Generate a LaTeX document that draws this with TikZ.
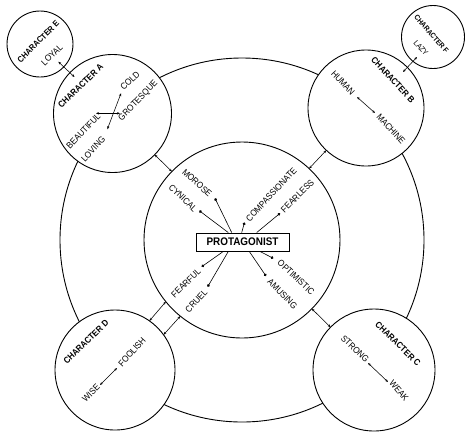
\documentclass[tikz,border=0pt]{standalone}
\usepackage{fontspec}
\setmainfont{Liberation Sans}[FakeStretch=0.9]
\usetikzlibrary{arrows.meta,calc}
\begin{document}
\begin{tikzpicture}[x=1pt,y=-1pt,
  ring/.style={circle,draw,line width=0.9pt,inner sep=0pt,outer sep=0pt},
  char/.style={circle,draw,line width=0.9pt,fill=white,inner sep=0pt,outer sep=0pt},
  lab/.style={font=\fontsize{9}{10}\selectfont,inner sep=0pt},
  cname/.style={font=\fontsize{8.9}{10}\selectfont\bfseries,inner sep=0pt},
  dbl/.style={line width=0.55pt,{Stealth[length=3pt,width=2.4pt]}-{Stealth[length=3pt,width=2.4pt]}},
  dotline/.style={line width=0.6pt,-{Circle[length=2.8pt]}},
  protbox/.style={draw,line width=0.9pt,fill=white,minimum width=93pt,minimum height=18pt,inner sep=0pt,font=\fontsize{11}{12}\selectfont\bfseries}
]
\useasboundingbox (0,0) rectangle (474,440);
% rings
\node[ring,minimum size=364pt] (O) at (242,240) {};
\node[ring,minimum size=196pt] (I) at (242,240) {};
% character circles
\node[char,minimum size=66pt] (E) at (40,44) {};
\node[char,minimum size=118pt] (A) at (112.5,113.5) {};
\node[char,minimum size=116pt] (B) at (366,108) {};
\node[char,minimum size=63pt] (F) at (433,37) {};
\node[char,minimum size=120pt] (D) at (115,370) {};
\node[char,minimum size=122pt] (C) at (374,370) {};
% connectors between circles
\draw[dbl] (A) -- (I);
\draw[dbl] (B) -- (I);
\draw[dbl] (C) -- (I);
\draw[dbl] (D.55.3) -- (I.219.8);
\draw[dbl] (D.36.1) -- (I.231.5);
\coordinate (ea1) at (58.3,61.7);
\coordinate (ea2) at (74.5,77);
\draw[dbl] (ea1) -- (ea2);
\coordinate (fb1) at (417,57);
\coordinate (fb2) at (403,72);
\draw[dbl] (fb1) -- (fb2);
% connectors inside circles
\coordinate (a1) at (96,113.3);
\coordinate (a2) at (120,113.3);
\draw[dbl] (a1) -- (a2);
\coordinate (a3) at (107.3,129.3);
\coordinate (a4) at (121,93.3);
\draw[dbl] (a3) -- (a4);
\coordinate (b1) at (357,97);
\coordinate (b2) at (375,113);
\draw[dbl] (b1) -- (b2);
\coordinate (d1) at (100,385);
\coordinate (d2) at (117,368);
\draw[dbl] (d1) -- (d2);
\coordinate (c1) at (368,363);
\coordinate (c2) at (388,382);
\draw[dbl] (c1) -- (c2);
% character labels
\node[cname,rotate=45,font=\fontsize{8.4}{10}\selectfont\bfseries] (tE) at (38.3,41.7) {CHARACTER E};
\node[lab,rotate=44] (loyal) at (52,55) {LOYAL};
\node[cname,rotate=44] (tA) at (80.5,86) {CHARACTER A};
\node[lab,rotate=43] (cold) at (130,81) {COLD};
\node[lab,rotate=46] (grot) at (138.3,100.8) {GROTESQUE};
\node[lab,rotate=46] (beau) at (83.3,131) {BEAUTIFUL};
\node[lab,rotate=47] (loving) at (93.3,149) {LOVING};
\node[cname,rotate=-47] (tB) at (393,80) {CHARACTER B};
\node[lab,rotate=-47] (human) at (343,83) {HUMAN};
\node[lab,rotate=-48] (machine) at (391,129) {MACHINE};
\node[cname,rotate=-49,font=\fontsize{7.4}{9}\selectfont\bfseries] (tF) at (431.5,34) {CHARACTER F};
\node[lab,rotate=-49,font=\fontsize{7.8}{9}\selectfont] (lazy) at (421,48) {LAZY};
\node[cname,rotate=44] (tD) at (86,342) {CHARACTER D};
\node[lab,rotate=48] (foolish) at (132,352) {FOOLISH};
\node[lab,rotate=45] (wise) at (91,393) {WISE};
\node[cname,rotate=-44] (tC) at (398,344) {CHARACTER C};
\node[lab,rotate=-44] (strong) at (355,349) {STRONG};
\node[lab,rotate=-50] (weak) at (399,391) {WEAK};
% protagonist
\node[protbox] (P) at (242.5,242) {PROTAGONIST};
\coordinate (pm) at (215,198.3);
\coordinate (pc) at (199.3,210.7);
\coordinate (pco) at (244.5,222.5);
\coordinate (pfe) at (280,213.3);
\coordinate (pff) at (201.7,266.7);
\coordinate (pcr) at (207.7,286.7);
\coordinate (pop) at (273.3,258.3);
\coordinate (pam) at (266,276);
\draw[dotline] ([xshift=-10.8pt]P.north) -- (pm);
\draw[dotline] ([xshift=-14.2pt]P.north) -- (pc);
\draw[dotline] ([xshift=-0.8pt]P.north) -- (pco);
\draw[dotline] ([xshift=14.2pt]P.north) -- (pfe);
\draw[dotline] ([xshift=-19.2pt]P.south) -- (pff);
\draw[dotline] ([xshift=-14.2pt]P.south) -- (pcr);
\draw[dotline] ([xshift=17.5pt]P.south) -- (pop);
\draw[dotline] ([xshift=6.8pt]P.south) -- (pam);
\node[lab,rotate=-42] (morose) at (197,183) {MOROSE};
\node[lab,rotate=-44] (cynical) at (183,198) {CYNICAL};
\node[lab,rotate=47] (compass) at (271.3,194.5) {COMPASSIONATE};
\node[lab,rotate=45] (fearless) at (297.5,196) {FEARLESS};
\node[lab,rotate=44] (fearful) at (186,283) {FEARFUL};
\node[lab,rotate=47] (cruel) at (196.3,301) {CRUEL};
\node[lab,rotate=-43] (optim) at (296,277.5) {OPTIMISTIC};
\node[lab,rotate=-45] (amusing) at (282.5,294) {AMUSING};
\end{tikzpicture}
\end{document}
